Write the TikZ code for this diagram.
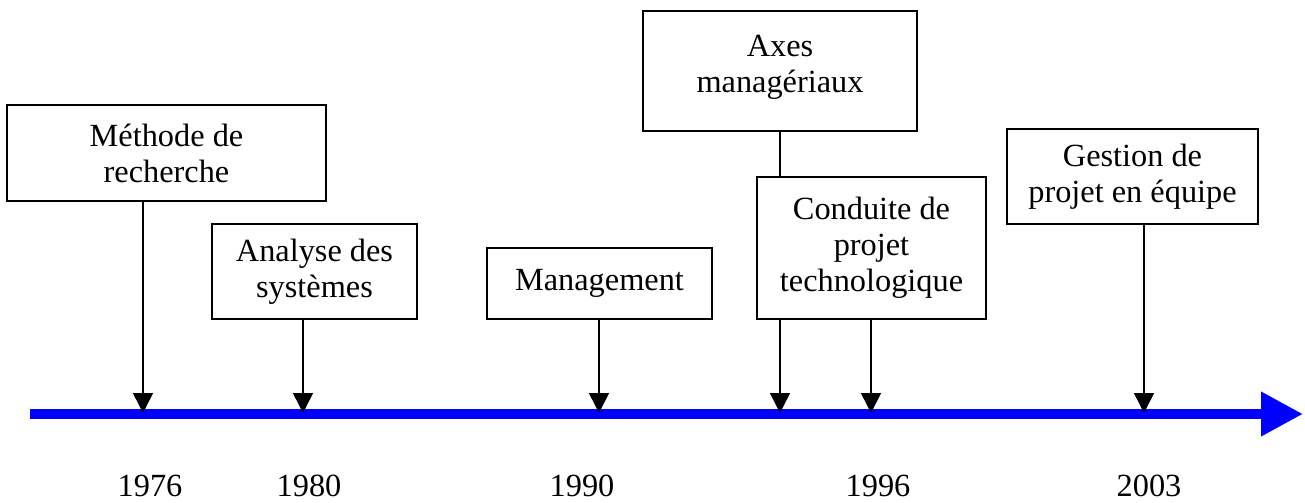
\documentclass[tikz,border=0pt]{standalone}
\usepackage{fontspec}
\setmainfont{Liberation Serif}
\usetikzlibrary{arrows.meta}
\tikzset{
	etape/.style={draw, line width=0.03cm, fill=white, align=center, inner sep=0pt},
	fleche/.style={line width=0.03cm, -{Triangle[width=0.4cm,length=0.4cm]}},
	annee/.style={anchor=base}
}

\begin{document}
\begin{tikzpicture}[x=0.02cm, y=-0.02cm, font=\fontsize{18.4}{20.5}\selectfont]
			%%%%% START %%%%%
			\useasboundingbox (0, 0) rectangle (1305, 503);
			
			% axe du temps
			\coordinate (debut) at (30, 414);
			\coordinate (fin) at (1303, 414);
			\draw[blue, line width=0.2cm, -{Triangle[width=0.84cm,length=0.84cm]}] (debut) -- (fin);
			
			\coordinate (t76) at (143, 413);
			\coordinate (t80) at (303, 413);
			\coordinate (t90) at (599, 413);
			\coordinate (t94) at (780, 413);
			\coordinate (t96) at (871, 413);
			\coordinate (t03) at (1144, 413);
			
			% les etapes
			\node[etape, minimum width=6.38cm, minimum height=1.92cm] (meth) at (166.5, 153) {M\'ethode de\\recherche};
			\node[etape, minimum width=4.10cm, minimum height=1.90cm] (ana) at (314.5, 271.5) {Analyse des\\syst\`emes};
			\node[etape, minimum width=4.50cm, minimum height=1.42cm] (man) at (599.5, 283.5) {Management};
			\node[etape, minimum width=5.48cm, minimum height=2.40cm] (axes) at (780, 71) {Axes\\manag\'eriaux\\[-12pt]};
			\node[etape, minimum width=4.58cm, minimum height=2.84cm] (cond) at (871.5, 248) {Conduite de\\projet\\technologique};
			\node[etape, minimum width=5.02cm, minimum height=1.90cm] (gest) at (1132.5, 176.5) {Gestion de\\projet en \'equipe};
			
			\draw[fleche] (meth.south -| t76) -- (t76);
			\draw[fleche] (ana.south -| t80) -- (t80);
			\draw[fleche] (man.south -| t90) -- (t90);
			\draw[line width=0.03cm] (axes.south) -- (cond.north -| axes.south);
			\draw[fleche] (cond.south -| t94) -- (t94);
			\draw[fleche] (cond.south -| t96) -- (t96);
			\draw[fleche] (gest.south -| t03) -- (t03);
			
			% annees
			\node[annee] (a76) at (150, 496) {1976};
			\node[annee] (a80) at (309, 496) {1980};
			\node[annee] (a90) at (582, 496) {1990};
			\node[annee] (a96) at (878, 496) {1996};
			\node[annee] (a03) at (1149, 496) {2003};
			%%%%% END %%%%%
\end{tikzpicture}
\end{document}
